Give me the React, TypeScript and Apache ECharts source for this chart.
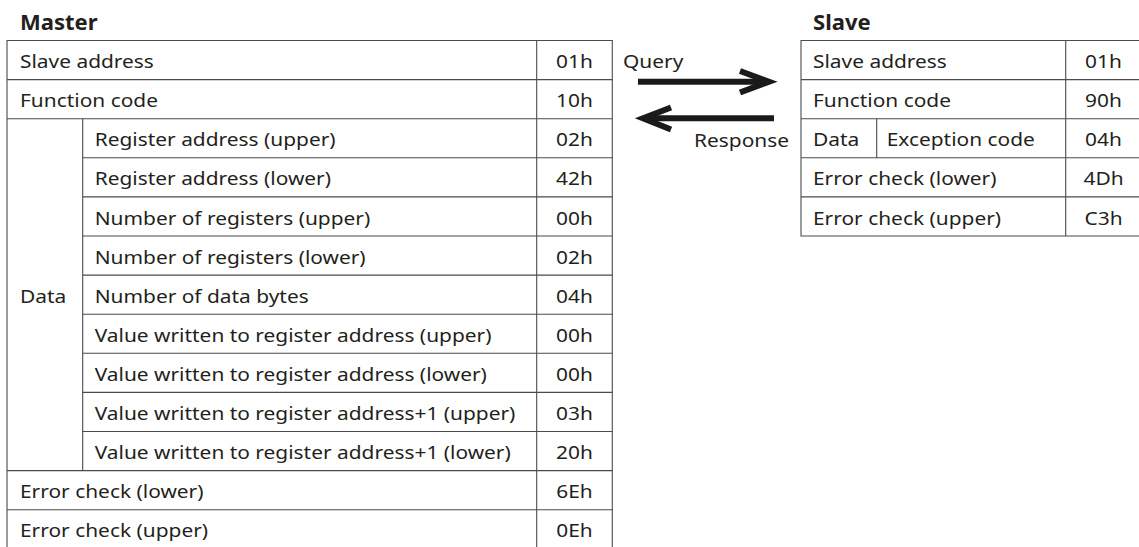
import React, { useEffect, useRef } from "react";
import * as echarts from "echarts";

const masterTitle = "Master";
const slaveTitle = "Slave";
const masterFields = [
  "Slave address",
  "Function code",
  "Register address (upper)",
  "Register address (lower)",
  "Number of registers (upper)",
  "Number of registers (lower)",
  "Number of data bytes",
  "Value written to register address (upper)",
  "Value written to register address (lower)",
  "Value written to register address+1 (upper)",
  "Value written to register address+1 (lower)",
  "Error check (lower)",
  "Error check (upper)",
];
const masterValues = ["01h", "10h", "02h", "42h", "00h", "02h", "04h", "00h", "00h", "03h", "20h", "6Eh", "0Eh"];
const masterDataRange = [2, 10];
const slaveFields = ["Slave address", "Function code", "Exception code", "Error check (lower)", "Error check (upper)"];
const slaveValues = ["01h", "90h", "04h", "4Dh", "C3h"];
const slaveDataRange = [2, 2];
const groupLabel = "Data";
const queryLabel = "Query";
const responseLabel = "Response";

const FONT = "'Noto Sans', sans-serif";
const TEXT = "#231f20";
const LINE = "#4a4a4a";
const ROW_H = 39.1;
const TOP = 40.5;
const FS = 19;
const SX = 1.1;

function txt(text: string, x: number, y: number, align: string, bold = false, size = FS, sx = SX) {
  return {
    type: "text",
    x,
    y,
    scaleX: sx,
    style: {
      text,
      font: `${bold ? "bold " : ""}${size}px ${FONT}`,
      fill: TEXT,
      align,
      verticalAlign: "middle",
    },
  };
}

function buildTable(
  fields: string[],
  values: string[],
  range: number[],
  x0: number,
  xSub: number,
  xVal: number,
  x1: number,
  labelPad: number,
  subPad: number
) {
  const els: any[] = [];
  const n = fields.length;
  const bottom = TOP + n * ROW_H;
  const ls = { stroke: LINE, lineWidth: 1.1 };
  els.push({ type: "rect", shape: { x: x0, y: TOP, width: x1 - x0, height: n * ROW_H }, style: { fill: "none", ...ls } });
  for (let i = 1; i < n; i++) {
    const y = TOP + i * ROW_H;
    const inside = i > range[0] && i <= range[1];
    els.push({ type: "line", shape: { x1: inside ? xSub : x0, y1: y, x2: x1, y2: y }, style: ls });
  }
  els.push({ type: "line", shape: { x1: xVal, y1: TOP, x2: xVal, y2: bottom }, style: ls });
  const dTop = TOP + range[0] * ROW_H;
  const dBot = TOP + (range[1] + 1) * ROW_H;
  els.push({ type: "line", shape: { x1: xSub, y1: dTop, x2: xSub, y2: dBot }, style: ls });
  els.push(txt(groupLabel, x0 + labelPad, (dTop + dBot) / 2 + 1, "left"));
  for (let i = 0; i < n; i++) {
    const cy = TOP + (i + 0.5) * ROW_H + 1;
    const inside = i >= range[0] && i <= range[1];
    els.push(txt(fields[i], inside ? xSub + subPad : x0 + labelPad, cy, "left"));
    els.push(txt(values[i], (xVal + x1) / 2, cy, "center"));
  }
  return els;
}

export default function App() {
  const ref = useRef<HTMLDivElement>(null);
  useEffect(() => {
    document.body.style.margin = "0";
    const chart = echarts.init(ref.current!, null, { renderer: "svg" });
    const arrowStyle = { stroke: "#1a1a1a", lineWidth: 6, fill: "none", lineJoin: "miter" as const, lineCap: "butt" as const };
    const graphic: any[] = [
      txt(masterTitle, 20, 22, "left", true, 21, 1.05),
      txt(slaveTitle, 813, 22, "left", true, 21, 1.05),
      ...buildTable(masterFields, masterValues, masterDataRange, 7, 82.7, 536.7, 612.3, 13, 12),
      ...buildTable(slaveFields, slaveValues, slaveDataRange, 801, 876.7, 1065.7, 1141.3, 12, 10),
      txt(queryLabel, 623, 61, "left"),
      txt(responseLabel, 789, 140, "right"),
      { type: "line", shape: { x1: 638, y1: 81.7, x2: 768, y2: 81.7 }, style: arrowStyle },
      { type: "polyline", shape: { points: [[740, 71], [769, 81.7], [740, 92.5]] }, style: arrowStyle },
      { type: "line", shape: { x1: 644, y1: 118.3, x2: 774, y2: 118.3 }, style: arrowStyle },
      { type: "polyline", shape: { points: [[671, 107.5], [643, 118.3], [671, 129.5]] }, style: arrowStyle },
    ];
    chart.setOption({ animation: false, backgroundColor: "#ffffff", graphic });
    return () => chart.dispose();
  }, []);
  return <div ref={ref} style={{ width: 1139, height: 547 }} />;
}
